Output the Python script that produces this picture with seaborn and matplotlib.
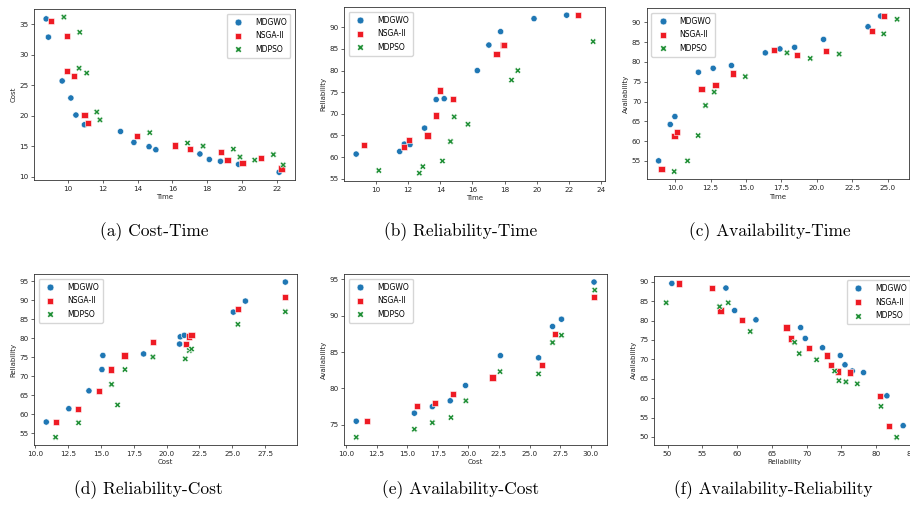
import matplotlib
matplotlib.use('Agg')
import matplotlib.pyplot as plt
import seaborn as sns
import pandas as pd
from matplotlib.ticker import MultipleLocator

ALGOS = ['MDGWO', 'NSGA-II', 'MDPSO']
COLORS = {'MDGWO': '#1f77b4', 'NSGA-II': '#ee1b24', 'MDPSO': '#1f8f35'}
MARKERS = {'MDGWO': 'o', 'NSGA-II': 's', 'MDPSO': 'X'}

# (a) Cost-Time
ct_mdgwo_time = [8.75, 8.88, 9.67, 10.17, 10.46, 10.95, 13.02, 13.79, 14.66, 15.05, 17.58, 18.12, 18.76, 19.8, 22.13]
ct_mdgwo_cost = [35.9, 32.9, 25.7, 22.9, 20.1, 18.5, 17.4, 15.6, 14.9, 14.4, 13.7, 12.8, 12.5, 12.0, 10.7]
ct_nsga_time = [9.05, 9.96, 9.96, 10.37, 10.95, 11.14, 13.97, 16.17, 17.02, 18.78, 19.17, 20.02, 21.1, 22.26]
ct_nsga_cost = [35.6, 33.1, 27.3, 26.5, 20.1, 18.8, 16.7, 15.1, 14.5, 14.0, 12.7, 12.2, 13.1, 11.3]
ct_mdpso_time = [9.77, 10.68, 10.64, 11.08, 11.66, 11.84, 14.7, 16.87, 17.76, 19.5, 19.88, 20.73, 21.8, 22.36]
ct_mdpso_cost = [36.2, 33.7, 27.8, 27.0, 20.6, 19.3, 17.2, 15.5, 15.0, 14.5, 13.2, 12.7, 13.6, 11.9]

# (b) Reliability-Time
rt_mdgwo_time = [8.76, 11.47, 11.76, 12.11, 13.02, 13.74, 14.24, 16.3, 17.02, 17.75, 19.83, 21.86]
rt_mdgwo_rel = [60.7, 61.3, 63.0, 62.9, 66.7, 73.3, 73.5, 80.0, 85.9, 89.0, 92.0, 92.8]
rt_nsga_time = [9.24, 11.76, 12.05, 13.2, 13.74, 13.99, 14.81, 17.5, 17.89, 17.97, 22.58]
rt_nsga_rel = [62.8, 62.4, 63.9, 65.0, 69.6, 75.4, 73.5, 83.8, 86.0, 85.9, 92.8]
rt_mdpso_time = [10.17, 12.69, 12.91, 14.13, 14.63, 14.86, 15.72, 18.43, 18.82, 23.51]
rt_mdpso_rel = [56.9, 56.3, 57.8, 59.1, 63.6, 69.3, 67.6, 77.8, 80.0, 86.7]

# (c) Availability-Time
at_mdgwo_time = [8.83, 9.65, 9.98, 11.64, 12.68, 13.97, 16.36, 17.39, 18.43, 20.47, 23.61, 24.5]
at_mdgwo_av = [55.0, 64.2, 66.2, 77.4, 78.4, 79.1, 82.3, 83.3, 83.7, 85.7, 88.9, 91.6]
at_nsga_time = [9.04, 9.95, 10.12, 11.85, 12.84, 14.06, 17.0, 18.62, 20.63, 23.87, 24.72]
at_nsga_av = [53.0, 61.3, 62.2, 73.1, 74.2, 77.1, 83.1, 81.7, 82.7, 87.9, 91.6]
at_mdpso_time = [9.93, 10.87, 11.62, 12.14, 12.75, 14.95, 17.89, 19.53, 21.57, 24.72, 25.66]
at_mdpso_av = [52.3, 55.0, 61.4, 69.0, 72.4, 76.3, 82.3, 80.9, 82.0, 87.1, 90.8]

# (d) Reliability-Cost
rc_mdgwo_cost = [10.84, 12.56, 14.09, 15.08, 15.15, 18.25, 20.99, 21.04, 21.35, 25.08, 26.0, 29.04]
rc_mdgwo_rel = [58.0, 61.5, 66.2, 71.8, 75.5, 75.9, 78.5, 80.4, 80.8, 86.9, 89.8, 94.8]
rc_nsga_cost = [11.57, 13.27, 14.85, 15.79, 16.8, 18.96, 21.45, 21.7, 21.9, 25.43, 29.04]
rc_nsga_rel = [58.0, 61.5, 66.2, 71.8, 75.5, 79.0, 78.6, 80.5, 80.8, 87.7, 90.8]
rc_mdpso_cost = [11.55, 13.3, 15.81, 16.27, 16.83, 18.96, 21.42, 21.73, 21.9, 25.43, 29.04]
rc_mdpso_rel = [54.0, 57.8, 67.9, 62.5, 71.8, 75.1, 74.6, 76.8, 77.2, 83.7, 87.0]

# (e) Availability-Cost
ac_mdgwo_cost = [10.84, 15.59, 17.06, 18.52, 19.77, 22.62, 25.74, 26.88, 27.61, 30.27]
ac_mdgwo_av = [75.5, 76.6, 77.5, 78.3, 80.4, 84.5, 84.2, 88.5, 89.5, 94.6]
ac_nsga_cost = [11.74, 15.83, 17.25, 18.77, 21.97, 26.01, 27.1, 30.27]
ac_nsga_av = [75.5, 77.6, 78.0, 79.2, 81.5, 83.2, 87.5, 92.6]
ac_mdpso_cost = [10.84, 15.59, 17.06, 18.58, 19.8, 22.59, 25.74, 26.88, 27.61, 30.33]
ac_mdpso_av = [73.3, 74.4, 75.3, 76.0, 78.3, 82.3, 82.0, 86.3, 87.3, 93.5]

# (f) Availability-Reliability
ar_mdgwo_rel = [50.62, 58.4, 59.65, 62.72, 69.15, 69.82, 72.3, 74.86, 75.53, 76.58, 78.2, 81.56, 83.9]
ar_mdgwo_av = [89.6, 88.4, 82.6, 80.2, 78.2, 75.4, 73.0, 71.0, 68.6, 67.0, 66.6, 60.6, 52.9]
ar_nsga_rel = [51.63, 56.38, 57.63, 60.75, 67.13, 67.8, 70.3, 72.89, 73.56, 74.57, 76.2, 80.57, 81.9]
ar_nsga_av = [89.6, 88.4, 82.6, 80.2, 78.2, 75.4, 73.0, 71.0, 68.6, 66.9, 66.6, 60.6, 52.8]
ar_mdpso_rel = [49.8, 57.49, 58.73, 61.9, 68.28, 68.95, 71.45, 74.04, 74.66, 75.67, 77.3, 80.71, 82.97]
ar_mdpso_av = [84.6, 83.6, 84.6, 77.2, 74.4, 71.5, 69.9, 67.0, 64.5, 64.2, 63.7, 57.9, 49.9]

CAPTIONS = ['(a) Cost-Time', '(b) Reliability-Time', '(c) Availability-Time',
            '(d) Reliability-Cost', '(e) Availability-Cost', '(f) Availability-Reliability']

W, H = 910, 508
fig = plt.figure(figsize=(W / 100, H / 100), dpi=100)


def rect(l, r, t, b):
    return [l / W, 1 - b / H, (r - l) / W, (b - t) / H]


panels = [
    dict(pos=rect(34.3, 295, 9.3, 180), xl='Time', yl='Cost',
         data=[(ct_mdgwo_time, ct_mdgwo_cost), (ct_nsga_time, ct_nsga_cost), (ct_mdpso_time, ct_mdpso_cost)],
         xs=2, ys=5, loc='upper right'),
    dict(pos=rect(344.3, 605, 7.3, 181), xl='Time', yl='Reliability',
         data=[(rt_mdgwo_time, rt_mdgwo_rel), (rt_nsga_time, rt_nsga_rel), (rt_mdpso_time, rt_mdpso_rel)],
         xs=2, ys=5, loc='upper left'),
    dict(pos=rect(646.7, 909, 8.3, 179.3), xl='Time', yl='Availability',
         data=[(at_mdgwo_time, at_mdgwo_av), (at_nsga_time, at_nsga_av), (at_mdpso_time, at_mdpso_av)],
         xs=2.5, ys=5, loc='upper left'),
    dict(pos=rect(34.3, 297.3, 274.3, 445), xl='Cost', yl='Reliability',
         data=[(rc_mdgwo_cost, rc_mdgwo_rel), (rc_nsga_cost, rc_nsga_rel), (rc_mdpso_cost, rc_mdpso_rel)],
         xs=2.5, ys=5, loc='upper left'),
    dict(pos=rect(344.3, 606.7, 274.3, 445), xl='Cost', yl='Availability',
         data=[(ac_mdgwo_cost, ac_mdgwo_av), (ac_nsga_cost, ac_nsga_av), (ac_mdpso_cost, ac_mdpso_av)],
         xs=2.5, ys=5, loc='upper left'),
    dict(pos=rect(654.3, 915, 275.7, 445), xl='Reliability', yl='Availability',
         data=[(ar_mdgwo_rel, ar_mdgwo_av), (ar_nsga_rel, ar_nsga_av), (ar_mdpso_rel, ar_mdpso_av)],
         xs=5, ys=5, loc='upper right'),
]

for p in panels:
    ax = fig.add_axes(p['pos'])
    frames = []
    for algo, (xv, yv) in zip(ALGOS, p['data']):
        frames.append(pd.DataFrame({'x': xv, 'y': yv, 'Algorithm': algo}))
    df = pd.concat(frames, ignore_index=True)
    sns.scatterplot(data=df, x='x', y='y', hue='Algorithm', style='Algorithm',
                    hue_order=ALGOS, style_order=ALGOS, palette=COLORS, markers=MARKERS,
                    s=20, linewidth=0.4, edgecolor='white', ax=ax)
    ax.set_xlabel(p['xl'], fontsize=5, color='0.15', labelpad=2)
    ax.set_ylabel(p['yl'], fontsize=5, color='0.15', labelpad=2)
    ax.xaxis.set_major_locator(MultipleLocator(p['xs']))
    ax.yaxis.set_major_locator(MultipleLocator(p['ys']))
    ax.tick_params(labelsize=5.2, length=2.5, width=0.5, pad=1.5, colors='0.15')
    for sp in ax.spines.values():
        sp.set_linewidth(0.6)
        sp.set_color('0.2')
    ax.legend(loc=p['loc'], fontsize=5.5, markerscale=1.1, handletextpad=1.2,
              borderpad=0.5, labelspacing=0.6, borderaxespad=0.6)

cap_pos = [(154, 232), (461, 232), (770, 232), (148, 490), (461, 490), (773, 490)]
for txt, (cx, cy) in zip(CAPTIONS, cap_pos):
    fig.text(cx / W, 1 - cy / H, txt, ha='center', va='center', fontsize=12.5,
             family=['cmr10', 'DejaVu Serif'])

fig.savefig('out.png', dpi=100)
